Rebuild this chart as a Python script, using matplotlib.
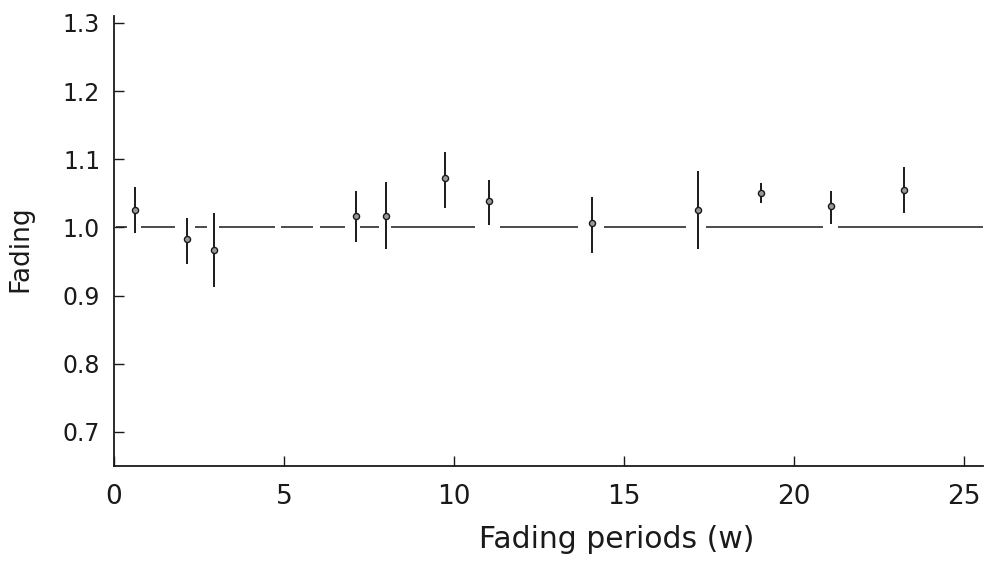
import numpy as np
import matplotlib
matplotlib.use("Agg")
import matplotlib.pyplot as plt

# fading ratio measured after each storage period (weeks), with error bar ends
periods = [0.62, 2.14, 2.94, 7.11, 7.99, 9.72, 11.03, 14.06, 17.18, 19.02, 21.08, 23.24]
fading = [1.025, 0.983, 0.967, 1.017, 1.017, 1.073, 1.038, 1.006, 1.026, 1.050, 1.032, 1.055]
err_hi = [1.059, 1.014, 1.021, 1.054, 1.066, 1.110, 1.070, 1.045, 1.083, 1.065, 1.054, 1.089]
err_lo = [0.992, 0.947, 0.913, 0.978, 0.968, 1.029, 1.004, 0.963, 0.968, 1.036, 1.005, 1.021]
reference_level = 1.0

xticks = [0, 5, 10, 15, 20, 25]
yticks = [0.7, 0.8, 0.9, 1.0, 1.1, 1.2, 1.3]

W, H, DPI = 989, 562, 100
fig = plt.figure(figsize=(W / DPI, H / DPI), dpi=DPI)
ax = fig.add_axes([114 / W, 1 - 466 / H, 869 / W, 450 / H])

ink = "#1a1a1a"

# hand-drawn looking dashed reference line (dash lengths in pixels)
dash_px = [11, 14, 34, 20, 12, 12, 56, 6, 32, 7, 25, 15, 19, 12, 84, 25,
           78, 26, 82, 20, 117, 15, 160, 10]
lw_ref = 1.1
px2pt = DPI / 72.0
dash_pt = tuple(d / px2pt / lw_ref for d in dash_px)
ref, = ax.plot([0, 26], [reference_level, reference_level], color=ink, lw=lw_ref)
ref.set_linestyle((-2 / px2pt / lw_ref, dash_pt))

fading = np.array(fading)
yerr = np.vstack([fading - np.array(err_lo), np.array(err_hi) - fading])
ax.errorbar(periods, fading, yerr=yerr, fmt="o", ms=4.4, mfc="#9a9a9a",
            mec=ink, mew=1.0, ecolor=ink, elinewidth=1.4, capsize=0, zorder=3)

ax.set_xlim(0, 25.55)
ax.set_ylim(0.65, 1.31)
ax.set_xticks(xticks)
ax.set_yticks(yticks)
ax.set_yticklabels([f"{v:.1f}" for v in yticks])

for s in ["top", "right"]:
    ax.spines[s].set_visible(False)
for s in ["left", "bottom"]:
    ax.spines[s].set_color(ink)
    ax.spines[s].set_linewidth(1.3)

ax.tick_params(axis="both", direction="in", length=7.5, width=1.0, color=ink)
ax.tick_params(axis="y", pad=10, labelsize=17, labelcolor=ink)
ax.tick_params(axis="x", pad=13, labelsize=19, labelcolor=ink)

ax.set_xlabel("Fading periods (w)", fontsize=21.5, color=ink)
ax.xaxis.set_label_coords(0.579, -0.132)
ax.set_ylabel("Fading", fontsize=19, color=ink)
ax.yaxis.set_label_coords(-0.093, 0.484)

fig.savefig("out.png", dpi=DPI)
